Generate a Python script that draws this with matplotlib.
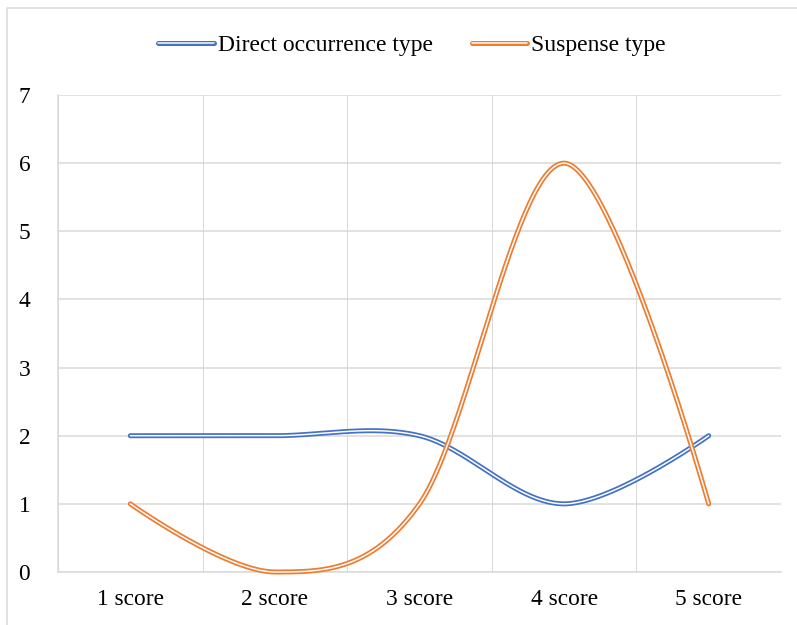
import numpy as np
import matplotlib
matplotlib.use("Agg")
import matplotlib.pyplot as plt
import matplotlib.patheffects as pe
from matplotlib.patches import Rectangle

categories = ["1 score", "2 score", "3 score", "4 score", "5 score"]
direct_vals = [2, 2, 2, 1, 2]
suspense_vals = [1, 0, 1, 6, 1]
series_names = ["Direct occurrence type", "Suspense type"]
colors = ["#4472C4", "#ED7D31"]
y_ticks = [0, 1, 2, 3, 4, 5, 6, 7]

plt.rcParams['font.family'] = ['Liberation Serif', 'DejaVu Serif']


def excel_smooth(xs, ys, n=60):
    P = np.column_stack([xs, ys]).astype(float)
    out = []
    m = len(P)
    for i in range(m - 1):
        p0, p1 = P[i], P[i + 1]
        c1 = p0 if i == 0 else p0 + (p1 - P[i - 1]) / 6.0
        c2 = p1 if i + 1 == m - 1 else p1 - (P[i + 2] - p0) / 6.0
        t = np.linspace(0, 1, n)[:, None]
        seg = ((1 - t) ** 3) * p0 + 3 * ((1 - t) ** 2) * t * c1 + 3 * (1 - t) * t ** 2 * c2 + t ** 3 * p1
        out.append(seg if i == 0 else seg[1:])
    s = np.vstack(out)
    return s[:, 0], s[:, 1]


W, H = 797, 625
fig = plt.figure(figsize=(W / 100, H / 100), dpi=100)
ax = fig.add_axes([58 / W, 53 / H, (781 - 58) / W, (572 - 95) / H])

x = np.arange(len(categories))
px = 72 / 100
for vals, name, col in zip([direct_vals, suspense_vals], series_names, colors):
    sx, sy = excel_smooth(x, vals)
    ax.plot(sx, sy, color="white", lw=1.5 * px, solid_capstyle="round", label=name,
            path_effects=[pe.Stroke(linewidth=5.0 * px, foreground=col, capstyle="round"), pe.Normal()],
            zorder=3, clip_on=False)

ax.set_xlim(-0.5, len(categories) - 0.5)
ax.set_ylim(0, 7)
ax.set_yticks(y_ticks)
ax.set_xticks(x)
ax.set_xticklabels(categories)
ax.set_xticks(np.arange(-0.5, len(categories), 1.0), minor=True)
grid_col = "#D9D9D9"
ax.grid(True, which="major", axis="y", color=grid_col, lw=1.5 * px)
ax.grid(True, which="minor", axis="x", color=grid_col, lw=1.0 * px)
ax.tick_params(axis="both", which="both", length=0, labelsize=16.8, colors="black")
ax.tick_params(axis="y", pad=20)
ax.tick_params(axis="x", pad=12)
for s in ["top", "right"]:
    ax.spines[s].set_visible(False)
ax.spines["left"].set_color(grid_col)
ax.spines["left"].set_linewidth(1.5 * px)
ax.spines["bottom"].set_color(grid_col)
ax.spines["bottom"].set_linewidth(1.5 * px)
ax.set_axisbelow(True)

fig.legend(loc="center", bbox_to_anchor=(412 / W, 1 - 45 / H), ncol=2, frameon=False,
           fontsize=17, handlelength=2.35, handletextpad=0.17, columnspacing=1.64,
           borderpad=0)

fig.patches.append(Rectangle((7.5 / W, -0.05), 1.1, 1.05 - 7.5 / H, transform=fig.transFigure,
                             fill=False, edgecolor=grid_col, lw=1.5 * px, figure=fig))

fig.savefig("out.png", dpi=100)
